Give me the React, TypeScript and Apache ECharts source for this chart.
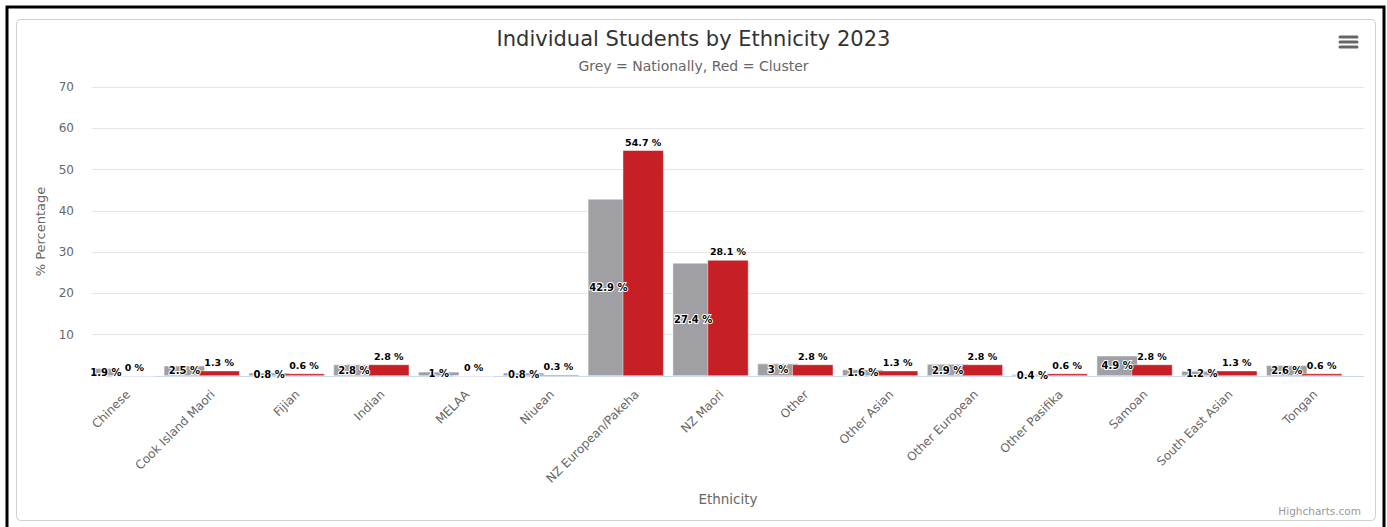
import React, { useEffect, useRef } from "react";
import * as echarts from "echarts";

const categories = [
  "Chinese",
  "Cook Island Maori",
  "Fijian",
  "Indian",
  "MELAA",
  "Niuean",
  "NZ European/Pakeha",
  "NZ Maori",
  "Other",
  "Other Asian",
  "Other European",
  "Other Pasifika",
  "Samoan",
  "South East Asian",
  "Tongan",
];
const nationally = [1.9, 2.5, 0.8, 2.8, 1, 0.8, 42.9, 27.4, 3, 1.6, 2.9, 0.4, 4.9, 1.2, 2.6];
const cluster = [0, 1.3, 0.6, 2.8, 0, 0.3, 54.7, 28.1, 2.8, 1.3, 2.8, 0.6, 2.8, 1.3, 0.6];
// layout-only spacer column (invisible) that reproduces the left-shifted bar group
const spacer = [0, 0, 0, 0, 0, 0, 0, 0, 0, 0, 0, 0, 0, 0, 0];

const FONT = "DejaVu Sans";

export default function App() {
  const ref = useRef<HTMLDivElement>(null);
  useEffect(() => {
    if (!ref.current) return;
    const chart = echarts.init(ref.current, null, { renderer: "svg" });
    chart.setOption({
      animation: false,
      textStyle: { fontFamily: FONT },
      title: {
        text: "Individual Students by Ethnicity 2023",
        subtext: "Grey = Nationally, Red = Cluster",
        left: "center",
        top: 28,
        padding: 0,
        itemGap: 10,
        textStyle: { fontFamily: FONT, fontSize: 21, fontWeight: "normal", color: "#333333" },
        subtextStyle: { fontFamily: FONT, fontSize: 14, color: "#666666" },
      },
      grid: { left: 92, right: 23, top: 87, bottom: 151, containLabel: false },
      xAxis: {
        type: "category",
        data: categories,
        name: "Ethnicity",
        nameLocation: "middle",
        nameGap: 113,
        nameTextStyle: { fontFamily: FONT, fontSize: 13.5, color: "#666666" },
        axisLine: { lineStyle: { color: "#ccd6eb", width: 1 } },
        axisTick: { show: false },
        axisLabel: {
          rotate: 45,
          interval: 0,
          margin: 10,
          padding: [0, 9, 0, 0],
          fontFamily: FONT,
          fontSize: 12,
          color: "#666666",
        },
      },
      yAxis: {
        type: "value",
        min: 0,
        max: 70,
        interval: 10,
        name: "% Percentage",
        nameLocation: "middle",
        nameGap: 45,
        nameRotate: 90,
        nameTextStyle: { fontFamily: FONT, fontSize: 13, color: "#666666" },
        axisLine: { show: false },
        axisTick: { show: false },
        splitLine: { lineStyle: { color: "#e6e6e6", width: 1 } },
        axisLabel: {
          showMinLabel: false,
          margin: 18,
          fontFamily: FONT,
          fontSize: 12,
          color: "#666666",
        },
      },
      series: [
        {
          name: "Nationally",
          type: "bar",
          data: nationally,
          barWidth: 41,
          itemStyle: { color: "#a09fa4", borderColor: "#ffffff", borderWidth: 0.5 },
          label: {
            show: true,
            position: "inside",
            formatter: (p: any) => `${p.value} %`,
            fontFamily: FONT,
            fontSize: 10,
            fontWeight: "bold",
            color: "#000000",
            textBorderColor: "#ffffff",
            textBorderWidth: 2,
          },
        },
        {
          name: "Cluster",
          type: "bar",
          data: cluster,
          barWidth: 41,
          itemStyle: { color: "#c62026", borderColor: "#ffffff", borderWidth: 0.5 },
          label: {
            show: true,
            position: "top",
            distance: 3,
            formatter: (p: any) => `${p.value} %`,
            fontFamily: FONT,
            fontSize: 9.5,
            fontWeight: "bold",
            color: "#000000",
            textBorderColor: "#ffffff",
            textBorderWidth: 1,
          },
        },
        {
          name: "spacer",
          type: "bar",
          data: spacer,
          barWidth: 41,
          barGap: "-15%",
          silent: true,
          itemStyle: { color: "rgba(0,0,0,0)" },
          label: { show: false },
        },
      ],
      graphic: [
        {
          type: "rect",
          shape: { x: 7, y: 7, width: 1377, height: 540 },
          style: { fill: "none", stroke: "#000000", lineWidth: 3 },
          silent: true,
        },
        {
          type: "rect",
          shape: { x: 16.5, y: 19.5, width: 1359, height: 501, r: 4 },
          style: { fill: "none", stroke: "#d0d0d0", lineWidth: 1 },
          silent: true,
        },
        {
          type: "line",
          shape: { x1: 1340, y1: 37, x2: 1357, y2: 37 },
          style: { stroke: "#666666", lineWidth: 3, lineCap: "round" },
        },
        {
          type: "line",
          shape: { x1: 1340, y1: 42, x2: 1357, y2: 42 },
          style: { stroke: "#666666", lineWidth: 3, lineCap: "round" },
        },
        {
          type: "line",
          shape: { x1: 1340, y1: 47, x2: 1357, y2: 47 },
          style: { stroke: "#666666", lineWidth: 3, lineCap: "round" },
        },
        {
          type: "text",
          right: 26,
          top: 505,
          style: { text: "Highcharts.com", fontFamily: FONT, fontSize: 10.5, fill: "#999999" },
        },
      ],
    });
    return () => chart.dispose();
  }, []);
  return (
    <div
      ref={ref}
      style={{ position: "fixed", left: 0, top: 0, width: 1387, height: 527, background: "#ffffff" }}
    />
  );
}
